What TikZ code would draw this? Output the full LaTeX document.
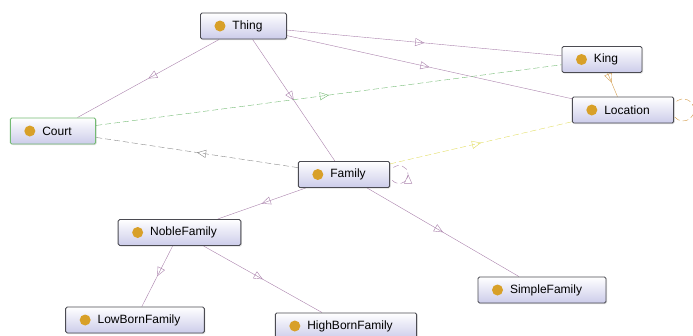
\documentclass[tikz,border=0pt]{standalone}
\usepackage{fontspec}
\setmainfont{Liberation Sans}
\usetikzlibrary{arrows.meta, positioning, decorations.markings, backgrounds, shadows, calc}

\definecolor{subc}{RGB}{170,130,172}
\definecolor{courtc}{RGB}{115,186,115}
\definecolor{grayc}{RGB}{135,135,135}
\definecolor{yellowc}{RGB}{226,222,100}
\definecolor{orangec}{RGB}{212,158,80}
\definecolor{dotc}{RGB}{216,160,40}
\definecolor{nodefill}{RGB}{204,204,234}
\definecolor{nodeline}{RGB}{75,75,82}

\tikzset{
    cls/.style={draw=nodeline, line width=0.9pt, rounded corners=1.5pt,
        top color=white, bottom color=nodefill,
        drop shadow={opacity=0.25, shadow xshift=1pt, shadow yshift=-1pt},
        minimum height=26pt, inner ysep=0pt, inner xsep=24pt,
        font=\fontsize{12}{14}\selectfont,
        execute at begin node={\hspace*{8pt}},
        path picture={\fill[dotc] ([xshift=19.5pt]path picture bounding box.west) circle (5.5pt);}},
    midarrow/.style={postaction={decorate, decoration={markings,
        mark=at position #1 with {\arrow{Triangle[open, length=9pt, width=8pt]}}}}},
    midarrow/.default=0.5,
    dashline/.style={dash pattern=on 6pt off 3pt}
}

\begin{document}
\begin{tikzpicture}[x=1pt, y=-1pt, line width=1.1pt]
    \useasboundingbox (0,0) rectangle (693,335);

    % classes
    \node[cls] (Thing) at (243.5,26) {Thing};
    \node[cls] (King) at (602,59.5) {King};
    \node[cls] (Location) at (623,110) {Location};
    \node[cls, draw=courtc] (Court) at (53,131) {Court};
    \node[cls] (Family) at (344,174.5) {Family};
    \node[cls] (NobleFamily) at (179.5,232.5) {NobleFamily};
    \node[cls] (LowBornFamily) at (135,320) {LowBornFamily};
    \node[cls] (HighBornFamily) at (346,326) {HighBornFamily};
    \node[cls] (SimpleFamily) at (542,290) {SimpleFamily};

    \begin{scope}[on background layer]
        % subclass links
        \draw[subc, midarrow] (Thing) -- (Court);
        \draw[subc, midarrow] (Thing) -- (King);
        \draw[subc, midarrow] (Thing) -- (Location);
        \draw[subc, midarrow] (Thing) -- (Family);
        \draw[subc, midarrow] (Family) -- (NobleFamily);
        \draw[subc, midarrow] (Family) -- (SimpleFamily);
        \draw[subc, midarrow] (NobleFamily) -- (LowBornFamily);
        \draw[subc, midarrow] (NobleFamily) -- (HighBornFamily);
        \draw[orangec, midarrow=0.4] (King) -- (Location);

        % properties
        \draw[courtc, dashline, midarrow] (Court) -- (King);
        \draw[grayc, dashline, midarrow] (Family) -- (Court);
        \draw[yellowc, dashline, midarrow] (Family) -- (Location);

        % self loops
        \draw[subc, dashline, midarrow] ($(Family.east)+(9,0)$) ++(140:9)
            arc[start angle=140, end angle=-140, radius=9];
        \draw[orangec, dashline] ($(Location.east)+(9,0)$) ++(140:11)
            arc[start angle=140, end angle=-140, radius=11];
    \end{scope}
\end{tikzpicture}
\end{document}
